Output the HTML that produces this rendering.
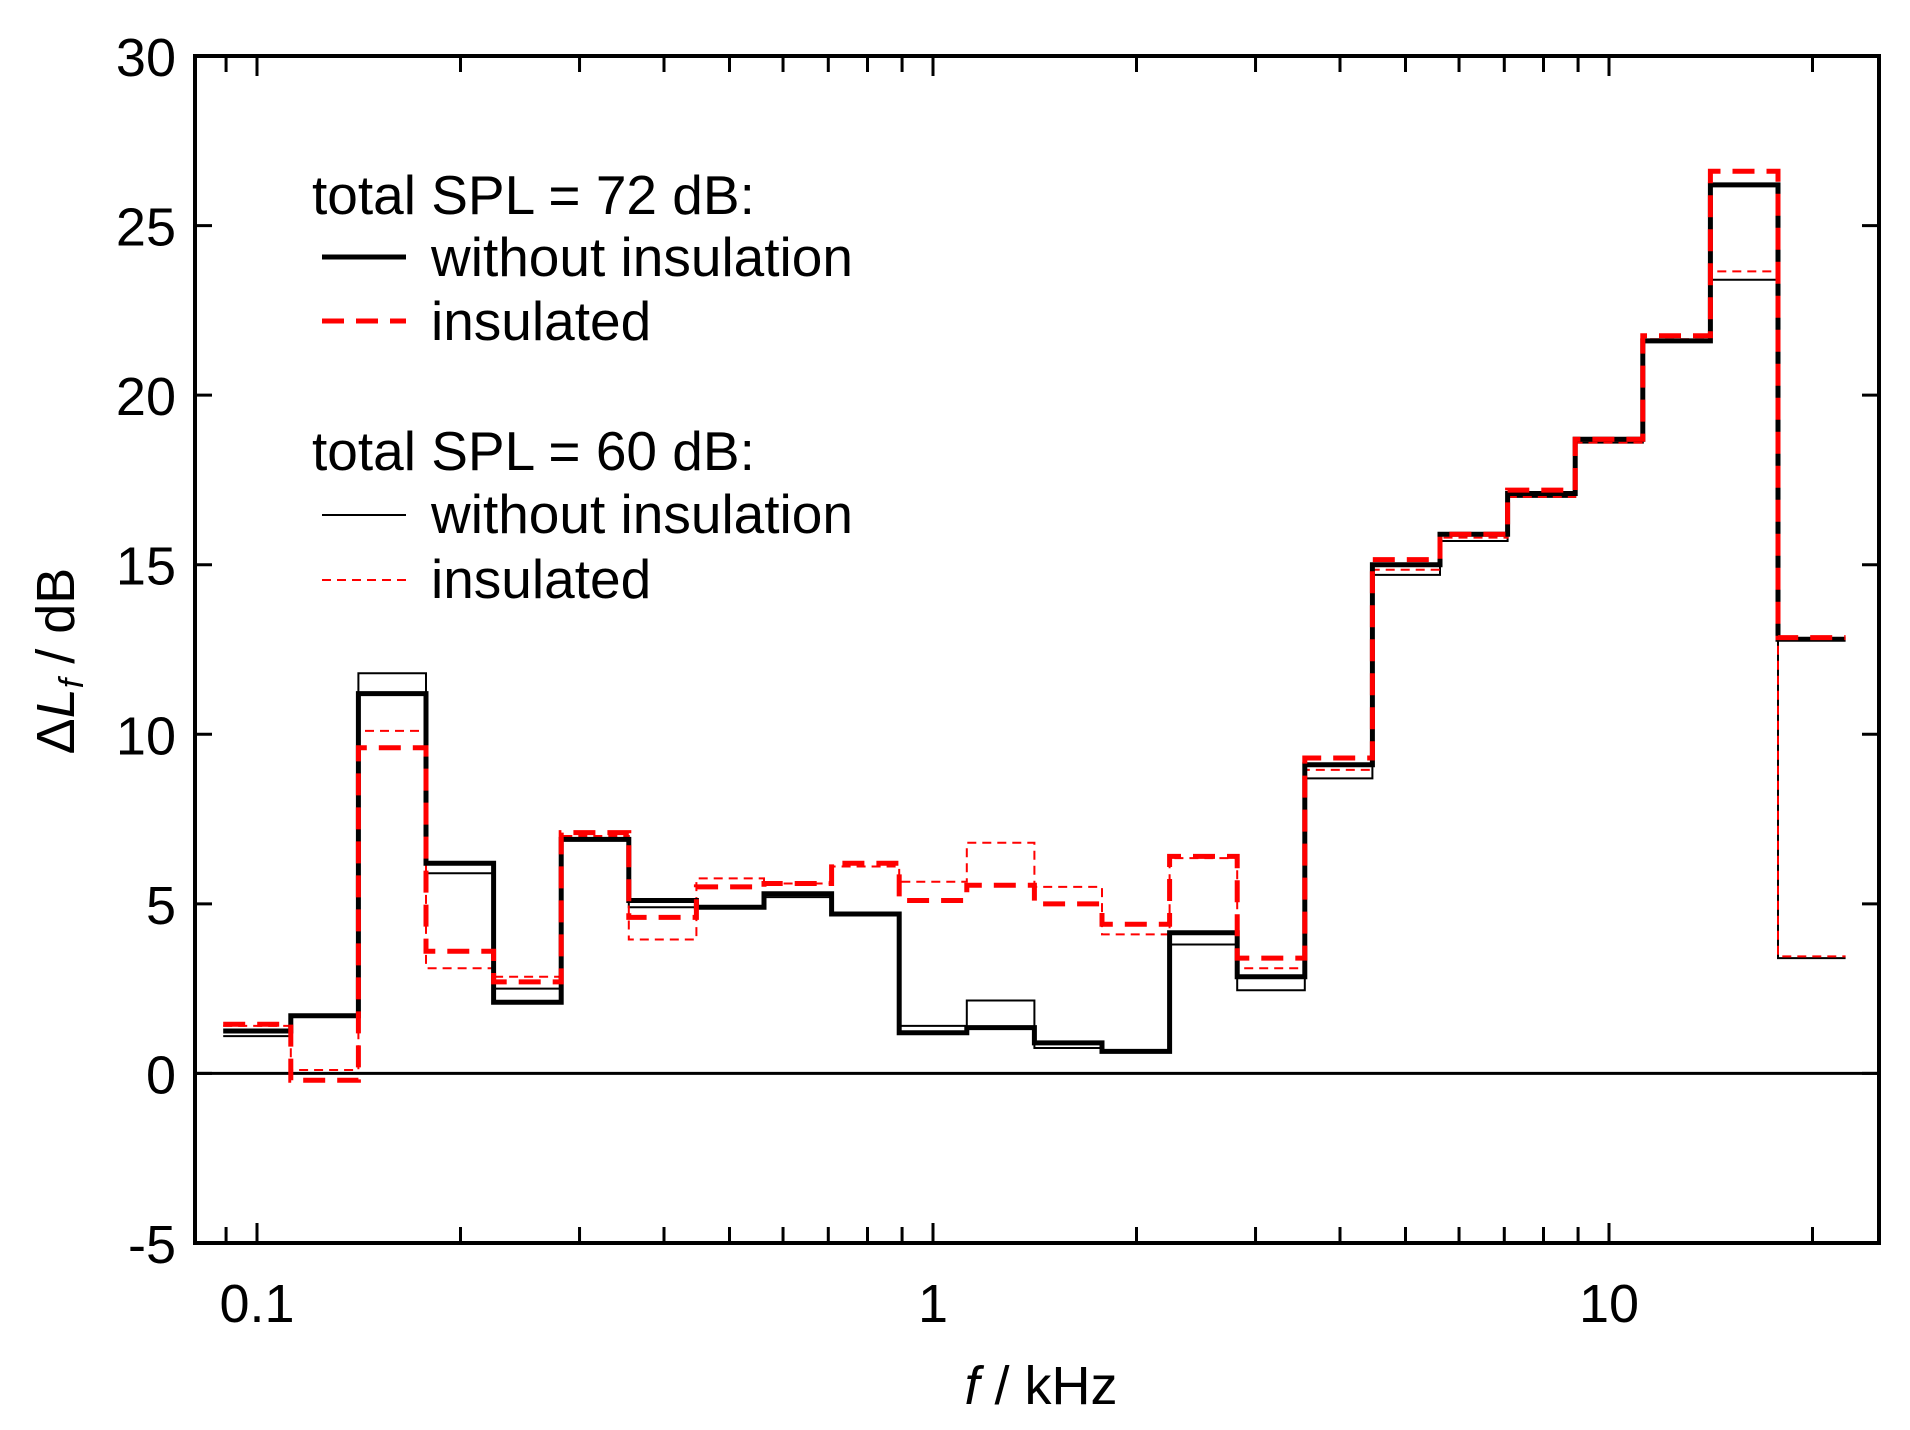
<!DOCTYPE html>
<html><head><meta charset="utf-8"><style>
html,body{margin:0;padding:0;background:#fff;}
svg{display:block;font-family:"Liberation Sans",Arial,sans-serif;}
</style></head><body>
<svg id="s" width="1910" height="1430" viewBox="0 0 1910 1430" xmlns="http://www.w3.org/2000/svg">
<g id="g"></g>
</svg>
<script>
var NS="http://www.w3.org/2000/svg",g=document.getElementById('g');
function X(f){return 933+676*Math.log10(f);}
function Y(v){return 56+(30-v)*33.914;}
function el(t,a,txt){var e=document.createElementNS(NS,t);for(var k in a)e.setAttribute(k,a[k]);if(txt!==undefined)e.textContent=txt;g.appendChild(e);return e;}
var L=195,R=1879,T=56,B=1243;
el('line',{x1:L,x2:R,y1:Y(0),y2:Y(0),stroke:'#000','stroke-width':3});
function path(vals){var d='';for(var i=0;i<vals.length;i++){var x0=X(Math.pow(10,(i-10-0.5)/10)),x1=X(Math.pow(10,(i-10+0.5)/10)),y=Y(vals[i]);d+=(i==0?'M':'L')+x0.toFixed(1)+','+y.toFixed(1)+'L'+x1.toFixed(1)+','+y.toFixed(1);}return d;}
var tb=[1.1,1.7,11.8,5.9,2.5,6.9,4.9,4.9,5.2,4.7,1.4,2.15,0.75,0.65,3.8,2.45,8.7,14.7,15.7,17.0,18.6,21.6,23.4,3.4];
var tr=[1.4,0.1,10.1,3.1,2.85,7.0,3.95,5.75,5.6,6.1,5.65,6.8,5.5,4.1,6.35,3.1,8.95,14.85,15.8,17.0,18.6,21.65,23.65,3.45];
var kb=[1.25,1.7,11.2,6.2,2.1,6.9,5.1,4.9,5.3,4.7,1.2,1.35,0.9,0.65,4.15,2.85,9.1,15.0,15.9,17.1,18.7,21.6,26.2,12.8];
var kr=[1.45,-0.2,9.6,3.6,2.7,7.1,4.6,5.5,5.6,6.2,5.1,5.55,5.0,4.4,6.4,3.4,9.3,15.15,15.9,17.2,18.7,21.75,26.6,12.85];
el('path',{d:path(tb),fill:'none',stroke:'#000','stroke-width':2});
el('path',{d:path(tr),fill:'none',stroke:'#f00','stroke-width':2,'stroke-dasharray':'9,6'});
el('path',{d:path(kb),fill:'none',stroke:'#000','stroke-width':5});
el('path',{d:path(kr),fill:'none',stroke:'#f00','stroke-width':5,'stroke-dasharray':'22,12'});
el('rect',{x:L,y:T,width:R-L,height:B-T,fill:'none',stroke:'#000','stroke-width':4});
for(var v=-5;v<=30;v+=5){var y=Y(v);el('line',{x1:L,x2:L+17,y1:y,y2:y,stroke:'#000','stroke-width':3});el('line',{x1:R-17,x2:R,y1:y,y2:y,stroke:'#000','stroke-width':3});
el('text',{x:176,y:y+20,'font-size':54,'text-anchor':'end'},String(v));}
var xt=[0.09];for(var d=0.1;d<20;d*=10){for(var m=1;m<10;m++)xt.push(+(d*m).toFixed(3));}xt.push(20);
xt.forEach(function(f){var x=X(f);var maj=(f==0.1||f==1||f==10);var l=maj?20:16;
el('line',{x1:x,x2:x,y1:B,y2:B-l,stroke:'#000','stroke-width':3});el('line',{x1:x,x2:x,y1:T,y2:T+l,stroke:'#000','stroke-width':3});});
[[0.1,'0.1'],[1,'1'],[10,'10']].forEach(function(p){el('text',{x:X(p[0]),y:1322,'font-size':54,'text-anchor':'middle'},p[1]);});
var t=el('text',{x:1041,y:1404,'font-size':54,'text-anchor':'middle'});
t.innerHTML='<tspan font-style="italic">f</tspan> / kHz';
var ty=el('text',{x:0,y:0,'font-size':54,'text-anchor':'middle',transform:'translate(74,661) rotate(-90)'});
ty.innerHTML='Δ<tspan font-style="italic">L</tspan><tspan font-style="italic" font-size="34" dy="9">f</tspan><tspan dy="-9"> / dB</tspan>';
var fs=55;
el('text',{x:312,y:214,'font-size':fs},'total SPL = 72 dB:');
el('line',{x1:322,x2:406,y1:257,y2:257,stroke:'#000','stroke-width':5});
el('text',{x:431,y:276,'font-size':fs},'without insulation');
el('line',{x1:322,x2:406,y1:321,y2:321,stroke:'#f00','stroke-width':5,'stroke-dasharray':'22,12'});
el('text',{x:431,y:340,'font-size':fs},'insulated');
el('text',{x:312,y:470,'font-size':fs},'total SPL = 60 dB:');
el('line',{x1:322,x2:406,y1:515,y2:515,stroke:'#000','stroke-width':2});
el('text',{x:431,y:533,'font-size':fs},'without insulation');
el('line',{x1:322,x2:406,y1:580,y2:580,stroke:'#f00','stroke-width':2,'stroke-dasharray':'9,6'});
el('text',{x:431,y:598,'font-size':fs},'insulated');
</script>
</body></html>
